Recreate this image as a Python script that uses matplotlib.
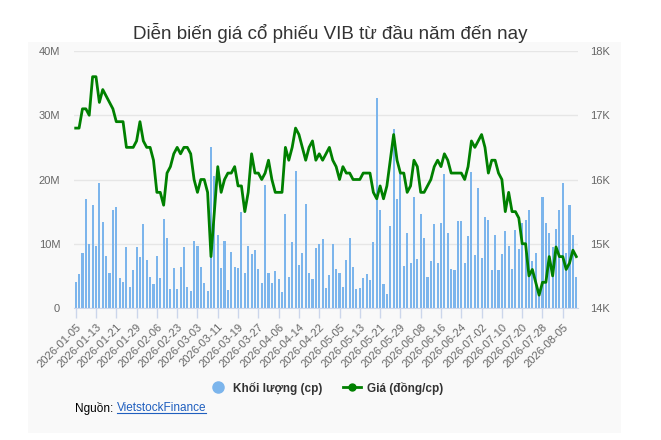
import matplotlib
matplotlib.use("Agg")
import matplotlib.pyplot as plt
import numpy as np
from matplotlib.patches import Rectangle
from matplotlib.lines import Line2D
from matplotlib.ticker import FuncFormatter

plt.rcParams['font.family'] = ['Liberation Sans', 'DejaVu Sans']

# Khoi luong giao dich (trieu cp) theo tung phien
volume = [
    4.1, 5.3, 8.6, 16.9, 10.0, 16.0, 9.7, 19.4, 13.4, 8.1, 5.5, 15.3, 15.7, 4.7, 4.1, 9.5,
    3.3, 5.9, 9.5, 8.0, 13.0, 7.5, 4.8, 3.75, 8.1, 4.7, 13.9, 10.9, 3.0, 6.25, 3.0, 6.4,
    9.5, 3.3, 2.7, 10.5, 9.7,
    6.4, 3.9, 2.7, 25.0, 20.6, 11.4, 6.25, 10.5, 2.8, 8.75, 6.4, 6.25, 15.0, 5.5, 9.7, 8.4,
    9.1, 6.1, 3.9, 19.1, 5.5, 3.9, 5.8, 4.5, 2.5, 14.7, 4.8, 10.3, 21.4, 6.7, 8.6, 16.25,
    5.5, 4.5, 9.4, 10.0, 10.8,
    3.1, 5.2, 10.0, 6.1, 5.5, 3.3, 7.5, 10.9, 6.4, 3.0, 3.1, 4.7, 5.3, 4.4, 10.3, 32.7,
    15.2, 3.75, 2.2, 12.7, 27.8, 16.9, 20.9, 6.6, 11.6, 7.0, 17.3, 7.7, 14.7, 10.9, 4.8,
    7.3, 13.0, 7.0, 13.3, 20.9, 11.6,
    6.1, 5.9, 13.5, 13.5, 7.0, 11.25, 21.1, 8.3, 18.6, 7.8, 14.1, 13.75, 5.9, 11.4, 5.9,
    8.4, 12.0, 9.7, 6.1, 12.2, 9.2, 13.3, 13.75, 15.3, 7.3, 8.6, 2.8, 17.3, 13.3, 11.7,
    9.5, 12.3, 15.2, 19.4, 8.6, 16.1, 11.4, 4.8,
]

# Gia dong cua (nghin dong/cp)
price = [
    16.8, 16.8, 17.1, 17.1, 17.0, 17.6, 17.6, 17.2, 17.4, 17.3, 17.2, 17.1, 16.9, 16.9, 16.9,
    16.5, 16.5, 16.5, 16.6, 16.9, 16.6, 16.5, 16.5, 16.3, 15.8, 15.8, 15.6, 16.1, 16.2, 16.4,
    16.5, 16.4, 16.5, 16.5, 16.4, 16.0, 15.8,
    16.0, 16.0, 15.8, 14.8, 15.5, 16.2, 15.8, 16.0, 16.1, 16.1, 16.2, 15.9, 15.9, 15.5, 15.8,
    16.4, 16.1, 16.1, 16.0, 16.1, 16.3, 16.0, 15.8, 15.8, 15.8, 16.5, 16.3, 16.5, 16.8, 16.7,
    16.5, 16.3, 16.5, 16.6, 16.3, 16.4, 16.3,
    16.4, 16.5, 16.3, 16.2, 16.0, 16.2, 16.1, 16.1, 16.0, 16.0, 16.0, 16.1, 16.1, 16.1, 15.8,
    15.7, 15.9, 15.7, 15.9, 16.3, 16.7, 16.3, 16.1, 16.1, 15.8, 15.9, 16.3, 16.2, 15.8, 15.8,
    15.9, 16.0, 16.2, 16.3, 16.2, 16.4, 16.3,
    16.1, 16.1, 16.1, 16.1, 16.0, 16.2, 16.6, 16.5, 16.6, 16.7, 16.5, 16.1, 16.3, 16.3, 16.1,
    16.0, 15.5, 15.8, 15.5, 15.5, 15.4, 15.0, 15.0, 14.5, 14.6, 14.4, 14.2, 14.4, 14.4, 14.8,
    14.5, 14.95, 14.8, 14.8, 14.6, 14.7, 14.9, 14.8,
]

tick_labels = [
    '2026-01-05', '2026-01-13', '2026-01-21', '2026-01-29', '2026-02-06', '2026-02-23',
    '2026-03-03', '2026-03-11', '2026-03-19', '2026-03-27', '2026-04-06', '2026-04-14',
    '2026-04-22', '2026-05-05', '2026-05-13', '2026-05-21', '2026-05-29', '2026-06-08',
    '2026-06-16', '2026-06-24', '2026-07-02', '2026-07-10', '2026-07-20', '2026-07-28',
    '2026-08-05',
]
tick_step = 6

W, H = 661, 440
fig = plt.figure(figsize=(W / 100, H / 100), dpi=100)
fig.patch.set_facecolor('white')
fig.patches.append(Rectangle((28 / W, 1 - 433 / H), 593 / W, 391 / H,
                             transform=fig.transFigure, facecolor='#f9f9f9',
                             edgecolor='none', zorder=-5))

ax = fig.add_axes([74 / W, 1 - 308 / H, 504 / W, 257 / H])
ax.set_facecolor('none')
ax2 = ax.twinx()

x = np.arange(len(volume))
ax.bar(x, np.array(volume) * 1e6, width=0.62, color='#7cb5ec', zorder=2)
ax2.plot(x, np.array(price) * 1000, color='#008000', lw=2, zorder=3)

ax.set_xlim(-0.5, len(volume) - 0.5)
ax.set_ylim(0, 40e6)
ax2.set_ylim(14000, 18000)
ax.set_yticks(np.arange(0, 41e6, 10e6))
ax2.set_yticks(np.arange(14000, 18001, 1000))
ax.yaxis.set_major_formatter(FuncFormatter(lambda v, p: '0' if v == 0 else f'{v / 1e6:.0f}M'))
ax2.yaxis.set_major_formatter(FuncFormatter(lambda v, p: f'{v / 1000:.0f}K'))

ax.grid(axis='y', color='#e6e6e6', lw=1, zorder=0)
ax.set_axisbelow(True)
for a in (ax, ax2):
    for s in a.spines.values():
        s.set_visible(False)
ax.spines['bottom'].set_visible(True)
ax.spines['bottom'].set_color('#ccd6eb')

ax.set_xticks(x[::tick_step][:len(tick_labels)])
ax.set_xticklabels(tick_labels, rotation=45, ha='right', va='top',
                   rotation_mode='anchor', fontsize=8, color='#666666')
ax.tick_params(axis='x', length=7, width=1, color='#ccd6eb', pad=3)
ax.tick_params(axis='y', length=0, pad=10, labelsize=8, labelcolor='#666666')
ax2.tick_params(axis='y', length=0, pad=9, labelsize=8, labelcolor='#666666')

fig.text(330 / W, 1 - 33 / H, 'Diễn biến giá cổ phiếu VIB từ đầu năm đến nay',
         ha='center', va='center', fontsize=13.5, color='#333333')

handles = [
    Line2D([], [], ls='none', marker='o', ms=8, color='#7cb5ec'),
    Line2D([], [], color='#008000', lw=2, marker='o', ms=5),
]
fig.legend(handles, ['Khối lượng (cp)', 'Giá (đồng/cp)'], loc='center',
           bbox_to_anchor=(326 / W, 1 - 388 / H), ncol=2, frameon=False,
           prop={'weight': 'bold', 'size': 8.5}, labelcolor='#333333',
           handlelength=1.6, columnspacing=1.7, handletextpad=0.5)

src = fig.text(75 / W, 1 - 408 / H, 'Nguồn: ', ha='left', va='center',
               fontsize=8.5, color='black')
fig.canvas.draw()
bb = src.get_window_extent()
link = fig.text(bb.x1 / W, 1 - 408 / H, 'VietstockFinance', ha='left', va='center',
                fontsize=8.5, color='#1f5fbf')
fig.canvas.draw()
lb = link.get_window_extent()
fig.add_artist(Line2D([lb.x0 / W, lb.x1 / W], [(lb.y0 + 1) / H, (lb.y0 + 1) / H],
                      transform=fig.transFigure, color='#1f5fbf', lw=0.8))

fig.savefig('out.png', dpi=100, facecolor='white')
